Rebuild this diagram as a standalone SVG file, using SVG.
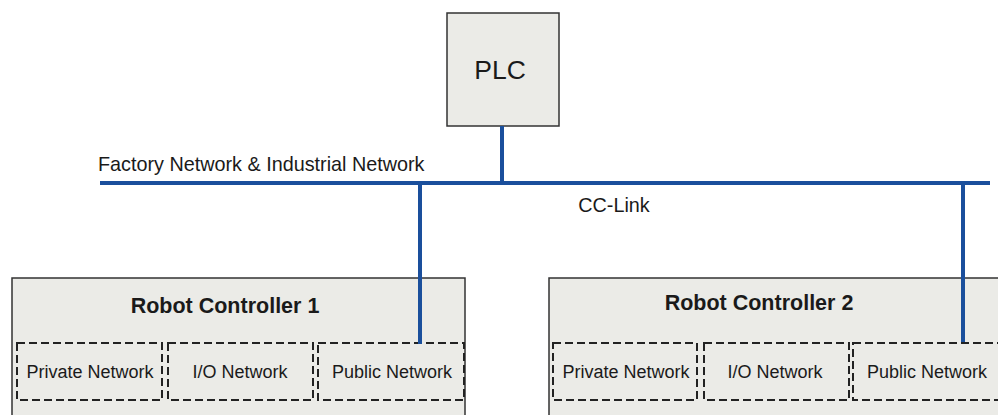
<svg xmlns="http://www.w3.org/2000/svg" width="998" height="415" viewBox="0 0 998 415">
<style>
.box{fill:#ebebe7;stroke:#333;stroke-width:1.5}
.dash{fill:none;stroke:#222;stroke-width:2;stroke-dasharray:8 4}
.bus{stroke:#1a4f9c;stroke-width:4;fill:none}
.t{font-family:"Liberation Sans",Arial,sans-serif;fill:#1a1a1a}
.sub{font-size:18px;text-anchor:middle}
.title{font-size:21.5px;font-weight:bold;text-anchor:middle}
</style>
<rect width="998" height="415" fill="#fff"/>
<g id="plc">
<rect class="box" x="447" y="13" width="112" height="113"/>
<text class="t" x="500" y="79" font-size="26.5" text-anchor="middle">PLC</text>
</g>
<text class="t" x="98" y="171" font-size="19.8">Factory Network &amp; Industrial Network</text>
<text class="t" x="614" y="212" font-size="19.8" text-anchor="middle">CC-Link</text>
<g id="controller1">
<rect class="box" x="12" y="278" width="453" height="150"/>
<text class="t title" x="225" y="313">Robot Controller 1</text>
<g id="c1-private"><rect class="dash" x="17" y="343" width="145" height="57"/><text class="t sub" x="90" y="378">Private Network</text></g>
<g id="c1-io"><rect class="dash" x="168" y="343" width="145" height="57"/><text class="t sub" x="240" y="378">I/O Network</text></g>
<g id="c1-public"><rect class="dash" x="318" y="343" width="146" height="57"/><text class="t sub" x="392" y="378">Public Network</text></g>
</g>
<g id="controller2">
<rect class="box" x="549" y="278" width="460" height="150"/>
<text class="t title" x="759" y="310">Robot Controller 2</text>
<g id="c2-private"><rect class="dash" x="553" y="343" width="144" height="57"/><text class="t sub" x="626" y="378">Private Network</text></g>
<g id="c2-io"><rect class="dash" x="704" y="343" width="145" height="57"/><text class="t sub" x="775" y="378">I/O Network</text></g>
<g id="c2-public"><rect class="dash" x="853" y="343" width="160" height="57"/><text class="t sub" x="927" y="378">Public Network</text></g>
</g>
<g id="connectors">
<path class="bus" d="M100 183H990"/>
<path class="bus" d="M502 126V183"/>
<path class="bus" d="M420 183V344"/>
<path class="bus" d="M963 183V342"/>
</g>
</svg>
